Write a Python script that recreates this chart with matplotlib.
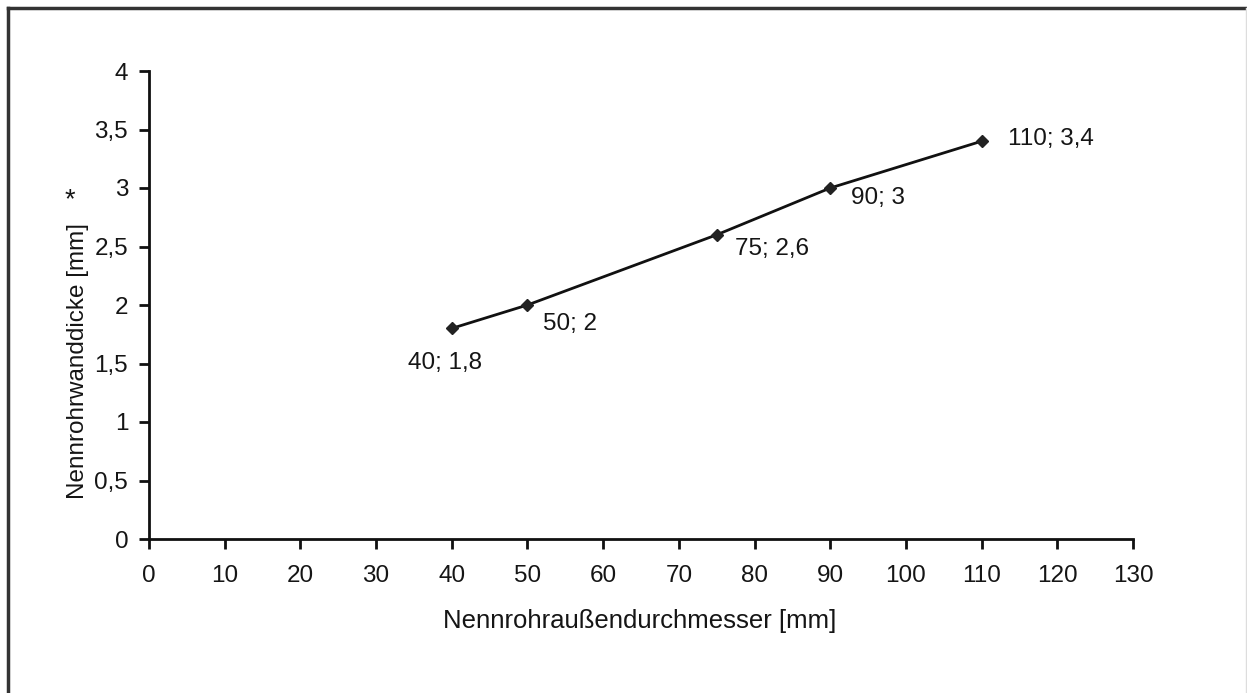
import matplotlib
matplotlib.use("Agg")
import matplotlib.pyplot as plt
from matplotlib.lines import Line2D

# Daten
durchmesser = [40, 50, 75, 90, 110]
wanddicke = [1.8, 2.0, 2.6, 3.0, 3.4]
punkt_labels = ["40; 1,8", "50; 2", "75; 2,6", "90; 3", "110; 3,4"]
x_ticks = list(range(0, 131, 10))
y_ticks = [0, 0.5, 1, 1.5, 2, 2.5, 3, 3.5, 4]
y_ticklabels = ["0", "0,5", "1", "1,5", "2", "2,5", "3", "3,5", "4"]

# Lage der Beschriftungen (Pixel relativ zum Punkt)
label_offsets = [(-7, -35), (43, -19), (55, -14), (48, -10), (69, 2)]

plt.rcParams['font.family'] = ['Liberation Sans', 'DejaVu Sans']
fs = 17.5
txt = '#151515'

W, H = 1247, 693
fig = plt.figure(figsize=(W/100, H/100), dpi=100)
ax = fig.add_axes([149/W, 1-539/H, 984/W, 468/H])

ax.plot(durchmesser, wanddicke, color='#111111', lw=2, marker='D', ms=6,
        markerfacecolor='#222222', markeredgecolor='#222222')

for x, y, t, (dx, dy) in zip(durchmesser, wanddicke, punkt_labels, label_offsets):
    ax.annotate(t, (x, y), xytext=(dx, dy), textcoords='offset pixels',
                ha='center', va='center', fontsize=fs, color=txt)

ax.set_xlim(0, 130)
ax.set_ylim(0, 4)
ax.set_xticks(x_ticks)
ax.set_xticklabels([str(v) for v in x_ticks])
ax.set_yticks(y_ticks)
ax.set_yticklabels(y_ticklabels)

for s in ['top', 'right']:
    ax.spines[s].set_visible(False)
for s in ['left', 'bottom']:
    ax.spines[s].set_linewidth(2)
    ax.spines[s].set_color('#111111')

ax.tick_params(axis='both', direction='out', length=7, width=2, color='#111111',
               labelsize=fs, labelcolor=txt)
ax.tick_params(axis='x', pad=12)
ax.tick_params(axis='y', pad=8)

fig.text(640/W, 1-621/H, "Nennrohraußendurchmesser [mm]", ha='center', va='center',
         fontsize=18.5, color=txt)
fig.text(78/W, 1-361/H, "Nennrohrwanddicke [mm]", ha='center', va='center',
         rotation=90, fontsize=fs, color=txt)
fig.text(70/W, 1-200/H, "*", ha='center', va='center', fontsize=fs + 2, color=txt)

# Rahmen
fig.add_artist(Line2D([8/W, 8/W], [0, 1-8/H], transform=fig.transFigure,
                      color='#333333', lw=2.5))
fig.add_artist(Line2D([8/W, 1246/W], [1-8/H, 1-8/H], transform=fig.transFigure,
                      color='#333333', lw=2.5))
fig.add_artist(Line2D([1246/W, 1246/W], [0, 1-8/H], transform=fig.transFigure,
                      color='#dddddd', lw=1))

fig.savefig("out.png", dpi=100)
